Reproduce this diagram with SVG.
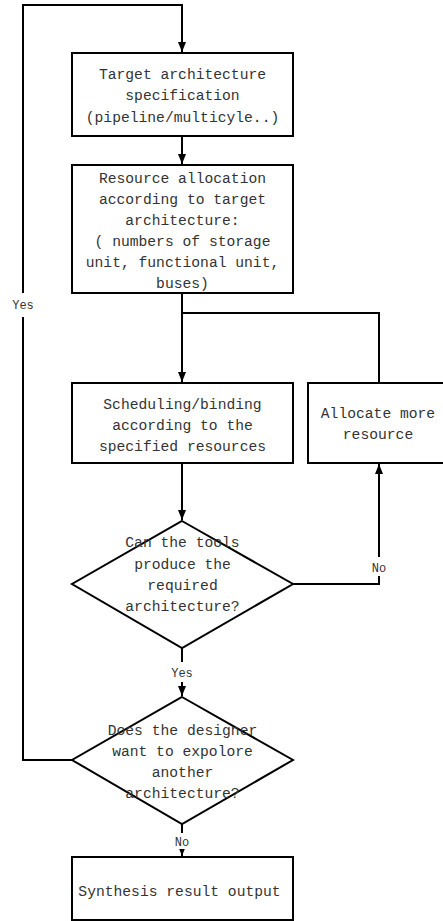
<svg xmlns="http://www.w3.org/2000/svg" width="443" height="921" viewBox="0 0 443 921">
<defs>
<style>
.n{fill:#fff;stroke:#000;stroke-width:2}
.t{font-family:"Liberation Mono","Courier New",monospace;font-size:14.67px;fill:#333;text-anchor:middle}
.l{font-family:"Liberation Mono","Courier New",monospace;font-size:12px;fill:#333;text-anchor:middle}
.c{fill:none;stroke:#000;stroke-width:2}
.bg{fill:#fff}
</style>
<marker id="ah" viewBox="0 0 10 8" refX="10" refY="4" markerWidth="10" markerHeight="8" markerUnits="userSpaceOnUse" orient="auto">
<path d="M0,0 L10,4 L0,8 Z" fill="#000"/>
</marker>
</defs>
<rect width="443" height="921" fill="#fff"/>
<g id="connectors">
<path class="c" d="M72,760 H23 V5 H182 V52" marker-end="url(#ah)"/>
<path class="c" d="M182,136 V164" marker-end="url(#ah)"/>
<path class="c" d="M182,293 V382" marker-end="url(#ah)"/>
<path class="c" d="M182,313 H379 V383"/>
<path class="c" d="M182,463 V520" marker-end="url(#ah)"/>
<path class="c" d="M293,584 H379 V464" marker-end="url(#ah)"/>
<path class="c" d="M182,648 V696" marker-end="url(#ah)"/>
<path class="c" d="M182,824 V856" marker-end="url(#ah)"/>
<rect class="bg" x="11" y="293" width="24" height="24"/>
<text class="l" x="23" y="308.5">Yes</text>
<rect class="bg" x="170" y="662" width="24" height="20"/>
<text class="l" x="182" y="676.5">Yes</text>
<rect class="bg" x="370" y="557" width="18" height="19"/>
<text class="l" x="379" y="572">No</text>
<rect class="bg" x="173" y="833" width="18" height="16"/>
<text class="l" x="182" y="846">No</text>
</g>
<g id="target">
<rect class="n" x="72" y="53" width="221" height="83"/>
<text class="t" x="182.5" y="78.5">Target architecture</text>
<text class="t" x="182.5" y="100.2">specification</text>
<text class="t" x="182.5" y="121.9">(pipeline/multicyle..)</text>
</g>
<g id="resource">
<rect class="n" x="72" y="165" width="221" height="128"/>
<text class="t" x="182.5" y="183">Resource allocation</text>
<text class="t" x="182.5" y="204">according to target</text>
<text class="t" x="182.5" y="225.3">architecture:</text>
<text class="t" x="182.5" y="246">( numbers of storage</text>
<text class="t" x="182.5" y="266.7">unit, functional unit,</text>
<text class="t" x="182.5" y="288">buses)</text>
</g>
<g id="scheduling">
<rect class="n" x="72" y="383" width="221" height="80"/>
<text class="t" x="182.5" y="408.5">Scheduling/binding</text>
<text class="t" x="182.5" y="429.5">according to the</text>
<text class="t" x="182.5" y="450.5">specified resources</text>
</g>
<g id="allocate">
<rect class="n" x="308" y="383" width="142" height="80"/>
<text class="t" x="378" y="417.8">Allocate more</text>
<text class="t" x="378" y="438.8">resource</text>
</g>
<g id="decision1">
<polygon class="n" points="182,521 293,584 182,648 72,584"/>
<text class="t" x="182.5" y="547">Can the tools</text>
<text class="t" x="182.5" y="568.5">produce the</text>
<text class="t" x="182.5" y="589.5">required</text>
<text class="t" x="182.5" y="611">architecture?</text>
</g>
<g id="decision2">
<polygon class="n" points="182,697 293,760 182,824 72,760"/>
<text class="t" x="182.5" y="734.5">Does the designer</text>
<text class="t" x="182.5" y="756">want to expolore</text>
<text class="t" x="182.5" y="776.5">another</text>
<text class="t" x="182.5" y="798">architecture?</text>
</g>
<g id="synthesis">
<rect class="n" x="72" y="857" width="221" height="63"/>
<text class="t" x="179.5" y="895.5">Synthesis result output</text>
</g>
</svg>
